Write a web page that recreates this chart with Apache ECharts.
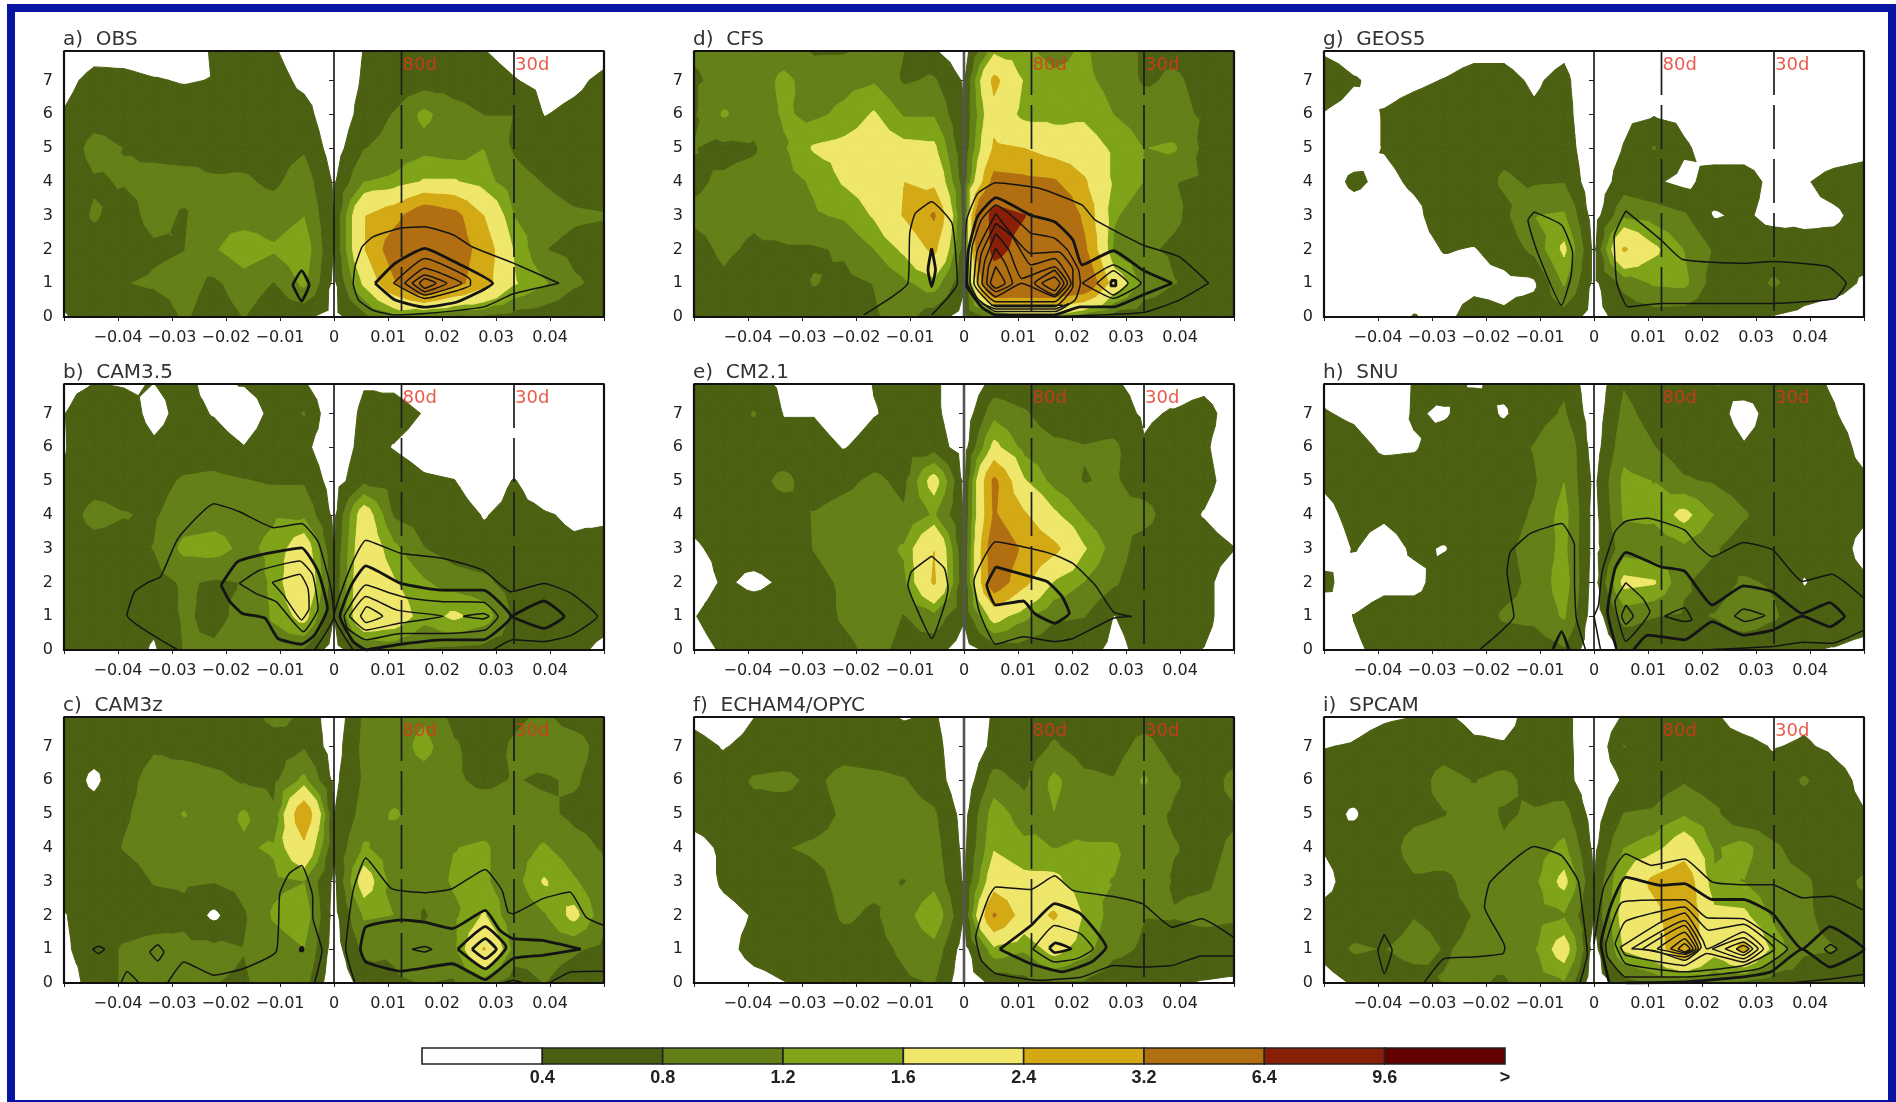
<!DOCTYPE html>
<html>
<head>
  <meta charset="UTF-8" />
  <title>Wavenumber-frequency spectra</title>
  <script src="https://cdn.jsdelivr.net/npm/echarts@6/dist/echarts.min.js"></script>
  <style>
    html, body { margin: 0; padding: 0; background: #fff; }
    #main { width: 1896px; height: 1102px; filter: blur(0.5px); }
  </style>
</head>
<body>
  <div id="main"></div>
  <script>
    // frequency steps (1/180 cpd), wavenumbers of the grid
    const freqSteps = [-9,-8,-7,-6,-5,-4,-3,-2,-1,0,1,2,3,4,5,6,7,8,9];
    const waveNums = [0,1,2,3,4,5,6,7,8];
    const levels = [0.4,0.8,1.2,1.6,2.4,3.2,6.4,9.6];
    const levelColors = ['#4b6111','#648018','#7fa41a','#efe76b','#d3a916','#b26f12','#8a1f08','#640000'];
    const barColors = ['#ffffff','#4b6111','#648018','#7fa41a','#efe76b','#d3a916','#b26f12','#8a1f08','#640000'];
    const barLabels = ['0.4','0.8','1.2','1.6','2.4','3.2','6.4','9.6','>'];
    const loop = (...p) => [...p, p[0], p[1]];

    // shaded field, one row per frequency step, values for wavenumber 0..8
    const obsShade = [
      [.38,.5,.5,.5,.5,.5,.42,.3,.1],[.5,.55,.6,.85,.75,.95,.6,.5,.25],[.5,.78,.55,.6,.83,.79,.6,.48,.25],
      [.5,.86,.72,.95,.9,.72,.55,.42,.2],[.85,.95,.79,.75,.95,.62,.55,.38,.25],[.6,.72,1.15,1.1,.83,.7,.55,.41,.42],
      [.81,1,1.45,1,.85,.65,.55,.6,.55],[.55,.78,1.25,1,.72,.65,.6,.55,.42],[.45,1.3,1.45,1.19,1,.75,.55,.3,.15],
      [.28,.3,.38,.39,.35,.2,.1,.1,.05],
      [.65,1.7,2.35,2.35,1.19,.78,.55,.45,.41],[1.05,3.1,3.7,2.9,1.28,.95,.82,.55,.5],[.81,4.5,4.3,3.9,1.65,1.05,1.3,.58,.38],
      [.65,3.5,3.7,3.5,1.65,.95,.95,.6,.38],[.7,2.7,2.85,2.39,1.35,1.19,.79,.55,.39],[.6,1.65,1.55,1.19,.95,.75,.79,.42,.25],
      [.55,1.25,.81,.95,.78,.55,.39,.3,.15],[.5,.85,.7,.85,.65,.55,.45,.35,.2],[.45,.7,.65,.82,.6,.5,.5,.45,.3]
    ];
    const cam35Shade = [
      [.45,.55,.55,.55,.55,.42,.38,.39,.3],[.6,.6,.6,.6,.95,.6,.6,.6,.38],[.6,.6,.6,.6,.82,.6,.6,.55,.35],
      [.35,.5,.65,.81,.75,.65,.45,.3,.41],[.81,.85,.85,1.3,1,.85,.55,.5,.5],[.85,.7,.75,1.35,1.05,.9,.55,.38,.25],
      [1,.9,.81,1.1,1.05,.82,.41,.2,.45],[1,1.25,1.3,1.3,1.15,.75,.6,.5,.55],[.75,1.8,2.3,2,1.1,.75,.5,.82,.41],
      [.2,.39,.45,.39,.3,.2,.1,.05,0],
      [.75,2.3,2.2,2.1,1.95,.7,.55,.5,.35],[.9,2,1.65,1.3,.75,.6,.38,.55,.3],[.75,1.35,1.25,.81,.6,.45,.25,.38,.15],
      [.7,1.7,1,.6,.55,.41,.2,.1,.05],[.65,1.41,.9,.5,.38,.2,.1,.1,.05],[.55,.75,.6,.55,.5,.42,.1,.1,.05],
      [.55,.65,.55,.5,.43,.2,.1,.1,.05],[.5,.65,.6,.45,.35,.1,.1,.05,.05],[.3,.55,.55,.5,.35,.1,.1,.05,.05]
    ];
    const cam3zShade = [
      [.2,.35,.38,.6,.6,.6,.6,.6,.6],[.55,.55,.55,.55,.55,.55,.32,.55,.55],[.85,.85,.55,.6,.82,.75,.65,.55,.55],
      [.85,.95,.6,.82,.95,.95,.95,.75,.55],[1,.9,.7,.85,1,1.22,1,.65,.55],[.81,.9,.3,.81,1.15,.95,.9,.6,.6],
      [.75,.81,.75,.95,1.15,1.25,.75,.6,.55],[1,1,1.25,1.1,1.25,.85,.7,.6,.95],[.95,1.19,1.45,1.19,2.2,3.1,1.3,.75,.75],
      [.1,.2,.25,.3,.45,.39,.3,.2,.1],
      [.55,.9,1.25,1.9,1.25,.95,.85,.9,.85],[.75,.85,1.19,1,.95,1.25,.95,.95,.95],[.81,1.05,.75,.95,1,1,1,1.35,1.1],
      [.75,1.1,1.1,1.25,1.19,.95,.85,.85,.65],[.95,2.45,1.65,1.25,1.25,1,.72,.6,.6],[.55,1.05,.85,1,1,.95,.82,.85,.7],
      [.81,.95,1.15,1.65,1.25,.9,.75,1,.85],[.6,.85,1.75,1.25,.95,.7,.85,1,.55],[.39,.7,.9,.9,.75,.65,.6,.6,.55]
    ];
    const cfsShade = [
      [.6,.65,.7,.85,.75,.81,.75,.75,.85],[.5,.75,.85,.9,.85,.7,1.25,.9,.95],[.55,.6,.75,.85,.95,.75,.95,.95,.95],
      [.55,.6,.75,1,1.05,1.15,1.25,1.3,.95],[.55,.82,.75,1.15,1.25,1.65,1.1,1,.72],[.6,.7,.85,1.25,1.65,1.75,1.3,1.05,.72],
      [.75,.81,1.19,1.65,1.85,1.9,1.65,1.15,.9],[.95,1.1,1.7,2.45,2.39,1.75,1.15,.75,.81],[.55,1.41,2.6,3.3,2.2,1.7,1.15,.85,.39],
      [.25,.45,.55,.6,.55,.45,.41,.35,.1],
      [1,4.8,7.2,7.5,3.5,2.5,2.15,2.6,1.3],[1.41,4.5,5.5,6.5,3.4,2.39,1.41,1.55,1.25],[1.41,4.5,4.5,4.5,3.3,2,1.41,1.3,1.01],
      [.9,4.2,3.4,3.01,2.5,1.9,1.5,1.3,1.25],[.6,2,1.1,1.25,1.5,1.5,1.19,1.05,.9],[.55,1.05,.85,.95,1.19,1.19,1.01,.75,.75],
      [.5,.81,.75,.85,.81,1.25,.9,.85,.7],[.5,.7,.7,.65,.75,.7,.75,.7,.65],[.45,.55,.65,.65,.65,.65,.65,.65,.6]
    ];
    const cm21Shade = [
      [.25,.38,.2,.35,.5,.5,.5,.5,.5],[.45,.6,.45,.5,.6,.6,.6,.6,.55],[.55,.6,.32,.55,.6,.65,.65,.82,.5],
      [.55,.6,.45,.6,.6,.9,.55,.38,.3],[.6,.6,.7,.81,.82,.6,.55,.38,.2],[.7,.85,.85,.95,.95,.7,.38,.2,.15],
      [.9,1,1,1,1,.88,.55,.38,.42],[.7,.78,1.1,1.25,.85,.7,.6,.5,.5],[.55,1.05,2.5,2.39,1.25,1.85,.6,.5,.5],
      [.2,.45,.45,.39,.35,.3,.2,.1,0],
      [.55,1.85,3.8,3.9,3.3,3.4,1.75,1.05,.5],[.6,1.3,2.6,3.05,2.5,1.65,1.05,.85,.45],[.55,.85,1.55,2.6,1.7,1.05,.9,.55,.45],
      [.55,.81,1.19,1.65,1.15,.78,.82,.55,.42],[.3,.39,.85,1,.85,.85,.88,.55,.42],[.5,.55,.55,.6,.95,.6,.43,.35,.3],
      [.5,.55,.55,.55,.55,.55,.55,.43,.2],[.39,.5,.5,.55,.38,.5,.45,.55,.25],[.2,.2,.2,.41,.2,.25,.2,.2,.1]
    ];
    const echamShade = [
      [.2,.25,.2,.2,.3,.5,.5,.5,.3],[.2,.3,.3,.45,.45,.55,.55,.38,.2],[.3,.5,.42,.55,.6,.65,.85,.5,.38],
      [.39,.55,.55,.6,.78,.6,.9,.5,.5],[.5,.6,.6,.7,.85,.65,.7,.55,.5],[.6,.65,.85,.9,.9,.85,.95,.6,.5],
      [.65,.7,.75,.88,1,1,.9,.55,.55],[.75,.85,1,.78,1,.95,.82,.55,.35],[.81,1.05,1.55,1.05,.95,.85,.6,.55,.45],
      [.1,.2,.39,.35,.3,.25,.1,.05,0],
      [.5,1.45,3.3,2,1.55,1.41,.95,.5,.45],[.65,1.25,2,1.75,1.3,1,.7,.55,.5],[.75,1.8,2.5,1.75,1.19,1.19,1.3,.85,.6],
      [.75,1.35,1.55,1.25,1.25,.95,.9,.6,.55],[.55,.9,1,1.19,1.25,.9,.82,.6,.55],[.55,.75,.81,1.19,.9,.95,1.25,.95,.55],
      [.42,.6,.82,.75,.82,.75,.85,.6,.5],[.38,.6,.9,.75,.7,.7,.6,.55,.5],[.35,.6,.85,.9,.85,.75,.9,.6,.55]
    ];
    const geos5Shade = [
      [.1,.15,.15,.15,.2,.2,.38,.65,.3],[.2,.15,.2,.2,.48,.2,.25,.43,.2],[.2,.15,.2,.2,.3,.42,.42,.3,.2],
      [.42,.2,.25,.3,.46,.55,.5,.35,.2],[.3,.25,.42,.6,.55,.6,.55,.41,.25],[.55,.3,.38,.6,.6,.65,.6,.5,.3],
      [.45,.3,.55,.7,.85,.7,.6,.5,.3],[.6,.33,.9,1.19,.75,.65,.45,.35,.2],[.6,1.25,1.7,1.25,.78,.6,.55,.5,.3],
      [.25,.3,.3,.2,.1,.1,.05,.05,0],
      [.55,.9,2.5,1.1,.6,.42,.3,.15,.1],[.6,1.25,1.7,1,.45,.82,.37,.2,.1],[.55,1.3,1.19,.85,.3,.45,.3,.15,.1],
      [.5,.6,.75,.37,.55,.25,.15,.1,.05],[.5,.6,.55,.45,.55,.25,.1,.1,.05],[.38,.85,.6,.3,.3,.2,.1,.1,.05],
      [.3,.6,.5,.33,.37,.2,.1,.1,.05],[.2,.55,.5,.35,.5,.25,.1,.1,.05],[.15,.35,.55,.5,.55,.3,.1,.1,.05]
    ];
    const snuShade = [
      [.1,.15,.5,.2,.3,.45,.55,.42,.3],[.35,.41,.2,.42,.5,.55,.5,.35,.2],[.48,.55,.3,.25,.45,.55,.35,.2,.2],
      [.55,.55,.3,.45,.55,.55,.37,.43,.42],[.55,.55,.55,.38,.55,.6,.55,.36,.55],[.55,.55,.55,.55,.55,.6,.6,.55,.35],
      [.55,.85,.65,.7,.6,.6,.6,.36,.5],[.55,.9,.9,.95,.85,.75,.82,.6,.55],[.75,1.25,1.41,1.3,1.35,1.19,1.19,.85,.7],
      [.1,.15,.2,.25,.25,.3,.2,.15,.1],
      [.45,.95,1.75,1,1.25,1.3,1.05,.9,.75],[.55,.81,1.65,.9,1.3,1.19,.81,.65,.55],[.55,.75,.85,1.1,1.75,.85,.55,.55,.5],
      [.55,.81,.6,.85,1.19,.75,.55,.5,.38],[.5,1.05,.85,.55,.85,.55,.42,.3,.55],[.5,.85,.75,.55,.5,.5,.5,.5,.5],
      [.42,.55,.38,.5,.55,.55,.55,.5,.5],[.38,.6,.55,.55,.55,.55,.55,.42,.36],[.3,.55,.45,.3,.45,.45,.3,.25,.2]
    ];
    const spcamShade = [
      [.2,.55,.5,.3,.42,.5,.5,.39,.2],[.45,.85,.55,.55,.55,.36,.55,.42,.3],[.55,.78,.55,.6,.6,.6,.6,.5,.35],
      [.6,.95,.78,.75,.95,.7,.6,.55,.38],[.81,.78,.7,.7,1,.78,.95,.6,.42],[.85,.85,.81,.95,1,1,.78,.45,.3],
      [.75,.95,1,1,.85,.75,.95,.42,.3],[1,1.15,1.05,1.1,1,.85,.6,.5,.5],[1.15,1.9,1.15,1.75,1.3,.95,.55,.55,.55],
      [.1,.2,.39,.39,.3,.2,.1,.05,0],
      [.6,1.65,1.85,1.65,1.19,.81,.45,.81,.42],[.85,2,2.15,2.6,1.41,.85,.6,.55,.5],[.9,3,3,3,2,1.15,.75,.55,.5],
      [.85,1.81,1.75,1.25,1.15,.9,.55,.5,.42],[.7,2.6,1.7,1.19,1.35,.42,.5,.48,.25],[.55,1.41,1.1,.9,.85,.55,.5,.38,.2],
      [.6,.85,.85,.85,.65,.55,.85,.45,.3],[.55,.81,.7,.65,.6,.55,.55,.32,.2],[.5,.6,.65,.85,.55,.42,.3,.2,.1]
    ];

    // black contours as flat lists: frequency step, wavenumber, ...
    const obsThin = [
      loop(7.5,1,5.96,1.6,4.6,2.08,4,2.42,3.02,2.67,2.17,2.62,1.3,2.37,.94,2.08,.7,1.49,.64,1,.82,.5,1.3,.2,2,.06,3.02,.1,5,.3,5.96,.68),
      loop(1.98,1,3.02,1.73,4.55,1.09,4.55,.95,3.02,.55),
      loop(2.35,1,3.02,1.44,4.25,1,3.02,.65),
      loop(2.6,1,3.02,1.24,3.76,1,3.02,.75),
      loop(2.84,1,3.02,1.14,3.4,1,3.02,.85)
    ];
    const obsThick = [
      loop(1.37,1,2.04,1.59,3.02,2.03,4,1.64,5.29,1,4.12,.45,3.02,.29,2.04,.5),
      loop(-1.38,.95,-1.08,1.37,-.83,.95,-1.08,.47)
    ];
    const cam35Thin = [
      [-5.2,0,-6.9,1.03,-6.65,1.72,-6.15,2.02,-5.78,2.17,-5.2,3.3,-4,4.33,-3.15,4.09,-2,3.62,-1.08,3.74,-.53,3.2,-.1,1.82,0,1,-.65,0],
      loop(-3.16,1.97,-2.48,2.36,-1.14,2.63,-.71,2.22,-.53,1.23,-1.02,.54,-1.93,1.43,-2.6,1.67),
      loop(-2.06,2,-1.14,2.24,-.87,1.82,-.83,1.23,-1.08,.89,-1.69,1.63),
      [.64,0,0,1,.58,2.51,1.06,3.25,2.23,2.86,3.65,2.71,4.98,2.36,5.9,1.72,7,1.97,7.92,1.67,8.78,.99,7.92,.44,7,.25,5.96,.3,5.3,0],
      loop(.33,1,1.06,1.92,1.92,1.67,2.53,1.53,3.65,1.43,4.98,1.41,5.47,.99,5.04,.59,3.65,.49,2.23,.49,1.06,.3,.45,.64),
      loop(.51,1,1.06,1.58,2.1,1.18,3.65,1,2.17,.79,1.06,.59),
      loop(.88,1,1.09,1.28,1.62,1,1.06,.81),
      loop(4.3,1,4.98,1.08,5.17,1,4.98,.92)
    ];
    const cam35Thick = [
      loop(-3.77,1.92,-3.22,2.61,-2.48,2.81,-1.08,3.02,-.53,2.32,-.22,1.23,-.65,.44,-1.08,.17,-1.87,.34,-2.3,.94,-3.05,1.08,-3.47,1.43),
      [1.06,0,.64,.25,.2,1,.58,1.92,1.06,2.49,2.23,1.97,3.65,1.77,4.98,1.77,5.9,.99,4.98,.3,3.65,.3,2.23,.17,1.06,0],
      loop(5.9,.99,7,1.45,7.67,.99,7,.64)
    ];
    const cam3zThin = [
      [-5.55,0,-5,.62,-4,.23,-3.03,.42,-1.93,.92,-1.81,2.64,-1.5,3.23,-1.08,3.48,-.71,2.54,-.71,1.95,-.4,.97,-.65,0],
      [-7.1,0,-6.9,.34,-6.5,0],
      loop(-8.05,1,-7.85,1.09,-7.65,1,-7.85,.87),
      loop(-6.15,.92,-5.88,1.13,-5.67,.92,-5.88,.65),
      loop(2.6,1,3.02,1.08,3.26,1,3.02,.92),
      [.7,0,.39,1,.64,2.74,1.06,3.7,1.92,2.79,3.02,2.67,3.94,2.79,5.04,3.36,5.6,2.74,5.8,2.1,5.96,2.05,6.94,2.49,7.86,2.69,8.4,1.95,9,1.7],
      [7.18,0,7.92,.33,9,.35],
      [5.65,0,5.96,.08,6.33,0]
    ];
    const cam3zThick = [
      loop(8.23,1,6.94,1.26,5.96,1.31,5.53,1.56,5.04,2.15,3.94,1.61,3.02,1.8,2.23,1.87,1.06,1.66,.88,1,1.06,.62,2.23,.35,3.94,.57,5.04,.1,5.96,.72,6.94,.82),
      loop(4.12,1,5.04,1.67,5.74,1.06,5.04,.42),
      loop(4.6,1,5.04,1.31,5.41,1,5.04,.72),
      loop(-1.12,1.05,-1.04,1.05,-1.04,.95,-1.12,.95)
    ];
    const cfsThin = [
      loop(8.16,1,7.18,1.78,5.96,2.13,4.37,2.87,3.94,3.31,2.53,3.8,1.06,3.97,.45,3.65,.09,2.87,.03,1,.58,.3,1.06,.06,3.02,.02,5.96,.13,7.18,.5),
      [-3.34,.06,-1.87,1,-1.81,2.47,-1.63,3.06,-1.08,3.41,-.4,2.77,-.22,1,-1.08,.06],
      loop(3.94,1,4.98,1.54,5.9,1,4.98,.55),
      loop(4.43,1,4.98,1.37,5.47,1,4.98,.65),
      loop(2.23,2.47,3.02,2.33,3.45,1.98,3.82,1.39,3.88,1,3.7,.5,3.02,.16,1.06,.16,.45,.55,.2,1,.27,2.08,.58,2.87,1.06,3.31),
      loop(1.06,3.06,.45,1.98,.33,1,1.06,.3,3.02,.3,3.63,.9,3.63,1.39,3.15,1.93,2.23,1.88),
      loop(1.06,2.77,.58,1.88,.45,1,1.06,.45,3.02,.45,3.57,1,3.02,1.73,2.23,1.54,1.62,2.37),
      loop(1.06,2.47,.7,1.68,.6,1,1.06,.6,1.92,1,3.02,.6,3.45,1,3.02,1.49,1.92,1.14,1.5,1.98),
      loop(1.06,2.03,.82,1.49,.76,1,1.06,.75,1.62,1,1.37,1.59),
      loop(1.06,1.49,.88,1,1.06,.85,1.37,1),
      loop(3.02,1.39,2.35,1,3.02,.65,3.33,1),
      loop(3.02,1.19,2.6,1,3.02,.78,3.2,1),
      [.6,.4,1.06,.24,3.02,.24,3.5,.4],[.9,.35,3.3,.35]
    ];
    const cfsThick = [
      loop(6.94,1,5.96,1.39,4.98,1.96,3.94,1.54,3.63,2.28,3.02,2.82,2.23,3.01,1.06,3.53,.45,2.97,.15,1.98,.09,1,.58,.3,1.06,.06,3,.06,3.88,.3,4.98,.3,5.96,.65),
      loop(-1.08,2.03,-.95,1.39,-1.08,.9,-1.2,1.39),
      loop(4.9,1.08,5.06,1.08,5.06,.92,4.9,.92)
    ];
    const cm21Thin = [
      loop(-1.08,2.78,-1.75,2.32,-1.87,1.92,-1.63,1.33,-1.08,.34,-.53,1.82,-.65,2.41),
      loop(5.6,.99,4.98,1.13,4.37,1.92,3.63,2.56,3.02,2.81,2.23,3,1.06,3.2,.33,2.02,.51,1.13,1.06,.17,1.98,.39,3.02,.25,3.63,.34,4.98,.94)
    ];
    const cm21Thick = [
      loop(1.06,2.46,.76,1.92,1.06,1.33,1.98,1.45,2.35,1.08,3.02,.79,3.51,1.09,3.27,1.58,2.78,2.02,2.23,2.17)
    ];
    const echamThin = [
      [9,.8,7.92,.8,6.94,.52,5.96,.47,4.98,.52,3.94,.18,2.53,.08,1.06,.28,.58,.67,.39,1.36,.82,2.54,1.06,2.84,2.23,2.77,3.02,3.17,3.63,2.74,4.98,2.56,5.96,2.34,6.94,1.65,7.92,1.9,9,1.34],
      loop(2.29,1,3.02,1.7,3.88,1.46,4.31,1.01,3.76,.72,3.02,.62)
    ];
    const echamThick = [
      loop(1.19,1,2.23,1.7,3.02,2.35,3.88,2.05,4.74,1.06,4.25,.62,3.27,.33,2.23,.57),
      loop(2.84,1.04,3.05,1.19,3.57,1.01,3.02,.9)
    ];
    const geos5Thin = [
      loop(-2,3.11,-1.08,2.72,-.71,1.88,-.77,1.19,-1.08,.35,-1.87,1.88,-2.2,2.87),
      loop(1.06,3.14,2.23,2.28,2.96,1.7,4.98,1.59,5.96,1.64,7.8,1.49,8.4,1,8.04,.55,5.96,.4,3,.4,2.23,.4,1.13,.3,.76,1,.67,2.37)
    ];
    const geos5Thick = [];
    const snuThin = [
      [-3.83,0,-2.67,1,-2.9,2.31,-2.79,2.9,-2.12,3.45,-1.08,3.74,-.65,3.1,-.65,2.02,-.59,.94,-.28,0],
      [0,1,.22,0],
      [0,1,.15,1.33,.27,2.32,.7,3.5,1.06,3.81,1.79,3.9,3.02,3.55,3.45,3.1,3.94,2.76,4.98,3.18,5.96,2.96,6.94,2.03,7.92,2.24,9,1.53],
      loop(1.06,1.99,.7,1.43,1.06,.26,1.86,1.14,1.62,1.53),
      loop(1.06,1.33,.92,1,1.06,.76,1.31,1),
      loop(2.35,1,3.02,1.25,3.26,.89,3.02,.84),
      loop(4.68,1,4.98,1.21,5.69,1.02,5.04,.84),
      [3.65,0,5.96,.1,6.94,.23,7.92,.2,9,.59]
    ];
    const snuThick = [
      [-1.38,0,-1.08,.54,-.83,0],
      [.76,0,.45,1.13,.7,2.41,1.06,2.89,2.23,2.46,3.02,2.33,3.94,1.33,4.98,1.9,5.96,1.72,6.94,1.08,7.86,1.4,8.35,.99,7.86,.69,6.94,1,5.96,.59,4.98,.44,3.94,.84,3.02,.3,1.79,.44,1.31,0]
    ];
    const spcamThin = [
      [-5.67,0,-5,.72,-4,.77,-3.03,.87,-2.97,1.06,-3.65,2.25,-3.46,2.99,-2,4.04,-1.08,3.77,-.53,3.03,-.4,2.25,-.22,.87,-.47,0],
      loop(-6.99,1.44,-7.2,.97,-6.99,.28,-6.73,.97),
      [0,1.16,.33,2.84,1.06,3.82,1.92,3.48,3.02,3.67,3.94,2.99,4.98,2.91,5.96,2.91,6.94,2.52,7.92,2.57,9,2.15],
      loop(.39,1.16,.94,2.39,3.02,2.46,3.76,1.93,4.98,1.9,5.6,1.56,6.45,1.01,5.5,.42,3.02,.18,1.06,.18,.45,.77),
      loop(.7,1.16,1.06,1.83,3.02,2.25,3.82,1.56,4.98,1.74,6.02,1.01,4.98,.52,3.02,.33,1.06,.57),
      loop(.88,1.06,2.23,1.8,3.02,2.07,3.63,1.26,3.76,1.01,4.98,1.51,5.65,1.01,4.98,.62,3.76,.87,3.02,.52,1.06,.82),
      loop(1.25,1.01,3.02,1.85,3.57,1.06,3.02,.67,2.05,.95),
      loop(1.62,1.01,3.02,1.7,3.48,1.01,3.02,.77),
      loop(2.1,1.01,3.02,1.5,3.4,1.01,3.02,.85),
      loop(2.55,1.01,3.02,1.31,3.3,1.01,3.02,.89),
      loop(2.8,1.01,3.02,1.16,3.2,1.01,3.02,.92),
      loop(3.94,1.01,4.98,1.34,5.47,1.01,4.98,.72),
      loop(4.37,1.01,4.98,1.21,5.29,1.01,4.98,.82),
      loop(4.74,1.01,4.98,1.11,5.17,1.01,4.98,.9),
      loop(7.67,1,7.88,1.14,8.1,1,7.88,.87),
      [6.5,0,7.9,.12,9,.25]
    ];
    const spcamThick = [
      [.51,0,.23,1.16,.58,2.34,1.06,3.13,2.23,2.89,3.02,2.94,3.94,2.47,4.98,2.47,5.96,2.05,6.94,1,7.86,1.67,9,1,7.86,.47,6.94,1,5.9,.33,4.98,.18,3.02,.03,1.06,0]
    ];

    const panelTitles = ['a)  OBS','b)  CAM3.5','c)  CAM3z','d)  CFS','e)  CM2.1','f)  ECHAM4/OPYC','g)  GEOS5','h)  SNU','i)  SPCAM'];
    const shades = [obsShade,cam35Shade,cam3zShade,cfsShade,cm21Shade,echamShade,geos5Shade,snuShade,spcamShade];
    const thins = [obsThin,cam35Thin,cam3zThin,cfsThin,cm21Thin,echamThin,geos5Thin,snuThin,spcamThin];
    const thicks = [obsThick,cam35Thick,cam3zThick,cfsThick,cm21Thick,echamThick,geos5Thick,snuThick,spcamThick];
    const greyZero = [false,false,false,true,true,true,false,false,false];

    const colLeft = [64,694,1324];
    const rowTop = [51,384,717];
    const panelW = 540, panelH = 266;
    const yMax = 7.87;
    const labelFont = 'DejaVu Sans';

    // part of a polygon [[x,y,v],...] where v >= lv
    function clipAbove(tri, lv) {
      const out = [];
      for (let i = 0; i < tri.length; i++) {
        const a = tri[i], b = tri[(i + 1) % tri.length];
        if (a[2] >= lv) out.push([a[0], a[1]]);
        if ((a[2] >= lv) !== (b[2] >= lv)) {
          const t = (lv - a[2]) / (b[2] - a[2]);
          out.push([a[0] + (b[0] - a[0]) * t, a[1] + (b[1] - a[1]) * t]);
        }
      }
      return out;
    }

    function buildBands(field) {
      const bands = levels.map(() => []);
      for (let c = 0; c < freqSteps.length - 1; c++) {
        for (let r = 0; r < waveNums.length - 1; r++) {
          const x0 = freqSteps[c] / 180, x1 = freqSteps[c + 1] / 180;
          const y0 = waveNums[r], y1 = waveNums[r + 1];
          const p = [[x0,y0,field[c][r]],[x1,y0,field[c + 1][r]],[x1,y1,field[c + 1][r + 1]],[x0,y1,field[c][r + 1]]];
          const mid = [(x0 + x1) / 2, (y0 + y1) / 2, (p[0][2] + p[1][2] + p[2][2] + p[3][2]) / 4];
          for (let e = 0; e < 4; e++) {
            const tri = [p[e], p[(e + 1) % 4], mid];
            levels.forEach((lv, i) => {
              let poly = clipAbove(tri, lv);
              // the top of the axis cuts the last grid row
              poly = clipAbove(poly.map(q => [q[0], q[1], yMax - q[1]]), 0);
              if (poly.length > 2) bands[i].push(poly);
            });
          }
        }
      }
      return bands;
    }

    function toPairs(flat) {
      const pts = [];
      for (let i = 0; i < flat.length; i += 2) pts.push([flat[i] / 180, flat[i + 1]]);
      return pts;
    }

    const grids = [], xAxes = [], yAxes = [], titles = [], series = [];

    panelTitles.forEach((name, n) => {
      const left = colLeft[Math.floor(n / 3)], top = rowTop[n % 3];
      grids.push({ left: left, top: top, width: panelW, height: panelH });
      titles.push({
        text: name, left: left - 1, top: top - 21, padding: 0,
        textStyle: { fontFamily: labelFont, fontSize: 20, fontWeight: 'normal', color: '#333' }
      });
      xAxes.push({
        type: 'value', gridIndex: n, min: -0.05, max: 0.05, interval: 0.01,
        splitLine: { show: false }, axisLine: { show: false },
        axisTick: { show: true, length: 4, lineStyle: { color: '#222', width: 1 } },
        axisLabel: {
          margin: 13, fontFamily: labelFont, fontSize: 16, color: '#222',
          formatter: v => {
            const i = Math.round(v * 100);
            if (Math.abs(i) === 5) return '';
            if (i === 0) return '0';
            return (i < 0 ? '\u2212' : '') + '0.0' + Math.abs(i);
          }
        }
      });
      yAxes.push({
        type: 'value', gridIndex: n, min: 0, max: yMax, interval: 1,
        splitLine: { show: false }, axisLine: { show: false },
        axisTick: { show: true, length: 5, lineStyle: { color: '#222', width: 1 } },
        axisLabel: {
          margin: 11, fontFamily: labelFont, fontSize: 16, color: '#222',
          formatter: v => Number.isInteger(v) ? String(v) : ''
        }
      });

      const bands = buildBands(shades[n]);
      series.push({
        type: 'custom', coordinateSystem: 'cartesian2d', xAxisIndex: n, yAxisIndex: n,
        data: [[0, 0]], silent: true, clip: true, z: 1, animation: false,
        renderItem: (params, api) => {
          const children = [];
          bands.forEach((polys, i) => {
            polys.forEach(poly => {
              children.push({
                type: 'polygon',
                shape: { points: poly.map(p => api.coord(p)) },
                style: { fill: levelColors[i], stroke: levelColors[i], lineWidth: 1, lineJoin: 'round' }
              });
            });
          });
          return { type: 'group', children: children };
        }
      });

      const addLines = (list, width) => list.forEach(flat => {
        series.push({
          type: 'line', xAxisIndex: n, yAxisIndex: n, data: toPairs(flat), showSymbol: false, silent: true,
          smooth: 0.15, z: 3, animation: false, lineStyle: { color: '#141414', width: width }
        });
      });
      addLines(thins[n], 1.5);
      addLines(thicks[n], 2.8);

      // zero line and the 80d / 30d periods
      series.push({
        type: 'line', xAxisIndex: n, yAxisIndex: n, data: [[0, 0], [0, yMax]], showSymbol: false, silent: true, z: 4, animation: false,
        lineStyle: { color: greyZero[n] ? '#555' : '#141414', width: greyZero[n] ? 2.6 : 1.6 }
      });
      [1 / 80, 1 / 30].forEach(f => {
        series.push({
          type: 'line', xAxisIndex: n, yAxisIndex: n, data: [[f, yMax], [f, 0]], showSymbol: false, silent: true, z: 4, animation: false,
          lineStyle: { color: '#1c1c1c', width: 1.7, type: [44, 10] }
        });
      });
      series.push({
        type: 'scatter', xAxisIndex: n, yAxisIndex: n, symbolSize: 0, silent: true, z: 5, animation: false,
        data: [{ value: [1 / 80, 7.45], name: '80d' }, { value: [1 / 30, 7.45], name: '30d' }],
        label: {
          show: true, position: 'right', distance: 1, formatter: '{b}',
          fontFamily: labelFont, fontSize: 18, color: '#e2321e'
        }
      });
      // frame on top of the shading
      series.push({
        type: 'line', xAxisIndex: n, yAxisIndex: n, showSymbol: false, silent: true, clip: false, z: 6, animation: false,
        data: [[-0.05, 0], [0.05, 0], [0.05, yMax], [-0.05, yMax], [-0.05, 0]],
        lineStyle: { color: '#111', width: 2.2, cap: 'square' }
      });
    });

    // colour bar
    const barIdx = panelTitles.length;
    grids.push({ left: 422, top: 1048, width: 1083, height: 16 });
    xAxes.push({
      type: 'value', gridIndex: barIdx, min: 0, max: barColors.length, interval: 1,
      splitLine: { show: false }, axisLine: { show: false }, axisTick: { show: false },
      axisLabel: {
        margin: 5, fontFamily: 'Liberation Sans', fontWeight: 'bold', fontSize: 18, color: '#222',
        formatter: v => v > 0 ? barLabels[v - 1] : ''
      }
    });
    yAxes.push({ type: 'value', gridIndex: barIdx, min: 0, max: 1, show: false });
    series.push({
      type: 'custom', coordinateSystem: 'cartesian2d', xAxisIndex: barIdx, yAxisIndex: barIdx, silent: true, animation: false, clip: false,
      data: barColors.map((c, i) => [i, i + 1]),
      renderItem: (params, api) => {
        const a = api.coord([api.value(0), 1]);
        const b = api.coord([api.value(1), 0]);
        return {
          type: 'rect',
          shape: { x: a[0], y: a[1], width: b[0] - a[0], height: b[1] - a[1] },
          style: { fill: barColors[params.dataIndex], stroke: '#222', lineWidth: 1.6 }
        };
      }
    });

    const frameBlue = '#0714a2';
    const chart = echarts.init(document.getElementById('main'), null, { renderer: 'canvas' });
    chart.setOption({
      animation: false,
      backgroundColor: '#fff',
      title: titles,
      grid: grids,
      xAxis: xAxes,
      yAxis: yAxes,
      series: series,
      graphic: [
        { type: 'rect', silent: true, shape: { x: 7, y: 4, width: 1889, height: 8 }, style: { fill: frameBlue } },
        { type: 'rect', silent: true, shape: { x: 7, y: 4, width: 8, height: 1098 }, style: { fill: frameBlue } },
        { type: 'rect', silent: true, shape: { x: 1888, y: 4, width: 8, height: 1098 }, style: { fill: frameBlue } },
        { type: 'rect', silent: true, shape: { x: 7, y: 1100, width: 1889, height: 2 }, style: { fill: frameBlue } }
      ]
    });
  </script>
</body>
</html>
